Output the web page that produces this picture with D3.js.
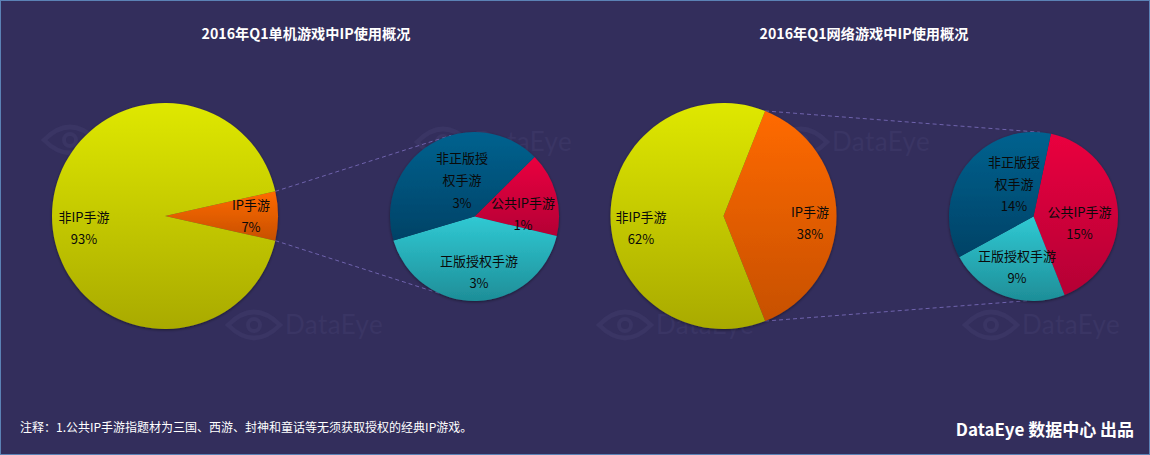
<!DOCTYPE html>
<html>
<head>
<meta charset="utf-8">
<script src="https://cdn.jsdelivr.net/npm/d3@7"></script>
<style>
  html, body { margin: 0; padding: 0; background: #332e5c; }
  svg { display: block; font-family: "Noto Sans CJK SC", "Noto Sans", sans-serif; }
</style>
</head>
<body>
<script>
// data
const chartTitles = ['2016年Q1单机游戏中IP使用概况', '2016年Q1网络游戏中IP使用概况'];
const mainCategories = ['IP手游', '非IP手游'];
const subCategories = ['公共IP手游', '正版授权手游', '非正版授权手游'];
const mainValuesLeft = [7, 93];
const mainValuesRight = [38, 62];
// slice sizes are a little off the rounded labels, same as in the picture
const subValuesLeft = [1.13, 2.92, 2.95];
const subValuesRight = [15.47, 8.75, 13.78];
const mainLabelsLeft = ['7%', '93%'];
const mainLabelsRight = ['38%', '62%'];
const subLabelsLeft = ['1%', '3%', '3%'];
const subLabelsRight = ['15%', '9%', '14%'];
const noteText = '注释：1.公共IP手游指题材为三国、西游、封神和童话等无须获取授权的经典IP游戏。';
const creditText = 'DataEye 数据中心 出品';

const w = 1150;
const h = 455;
const deg = Math.PI / 180;

const colors = {
  main: [['#ff6a00', '#c75000'], ['#dfe806', '#a9aa00']],
  sub: [['#ea003f', '#b40035'], ['#30c9d3', '#1e8e98'], ['#00628f', '#004266']]
};

// layout: pie centres, start angles, connector targets, label anchors
const layout = [
  {
    title: [306, 33],
    big: { cx: 165, cy: 216, r: 113 },
    small: { cx: 474.5, cy: 216.5, r: 84.5, start: 45.3 },
    targets: [-16, 204.5],
    mainPos: [[251, 204, 226], [84, 216, 238]],
    subPos: [[523, 202, 224], [479, 260, 282], [462, 157, 202]]
  },
  {
    title: [864, 33],
    big: { cx: 723.5, cy: 216, r: 113 },
    small: { cx: 1033.5, cy: 216.5, r: 84.5, start: 11.9 },
    targets: [4.4, 184.4],
    mainPos: [[810, 211, 233], [641, 216, 238]],
    subPos: [[1079.5, 211, 233], [1017, 255, 277], [1014, 161, 205]]
  }
];
const watermarks = [[42, 140], [415, 142], [773, 142], [226, 325], [597, 325], [963, 325]];

const svg = d3.select('body').append('svg')
  .attr('width', w)
  .attr('height', h);

const defs = svg.append('defs');

const shadow = defs.append('filter')
  .attr('id', 'shadow')
  .attr('x', '-10%').attr('y', '-10%')
  .attr('width', '120%').attr('height', '120%');
shadow.append('feDropShadow')
  .attr('dx', 0).attr('dy', 1)
  .attr('stdDeviation', 1.5)
  .attr('flood-color', '#000')
  .attr('flood-opacity', 0.45);

function addGradient(id, pair) {
  const g = defs.append('linearGradient')
    .attr('id', id)
    .attr('x1', 0).attr('y1', 0)
    .attr('x2', 0).attr('y2', 1);
  g.append('stop').attr('offset', '0%').attr('stop-color', pair[0]);
  g.append('stop').attr('offset', '100%').attr('stop-color', pair[1]);
}
colors.main.forEach((p, i) => addGradient('main' + i, p));
colors.sub.forEach((p, i) => addGradient('sub' + i, p));

// background and thin blue frame
svg.append('rect')
  .attr('width', w).attr('height', h)
  .attr('fill', '#332e5c');
svg.append('rect')
  .attr('x', 0.5).attr('y', 0.5)
  .attr('width', w - 1).attr('height', h - 1)
  .attr('fill', 'none')
  .attr('stroke', '#5b82b5')
  .attr('stroke-width', 1);

// DataEye watermarks
const wm = svg.append('g').attr('class', 'watermark');
watermarks.forEach(p => {
  const g = wm.append('g').attr('transform', 'translate(' + p[0] + ',' + p[1] + ')');
  g.append('path')
    .attr('d', 'M2,0 Q28,-26 54,0 Q28,26 2,0 Z')
    .attr('fill', 'none')
    .attr('stroke', '#3a3564')
    .attr('stroke-width', 4.5);
  g.append('circle')
    .attr('cx', 28).attr('cy', 0).attr('r', 6)
    .attr('fill', 'none')
    .attr('stroke', '#3a3564')
    .attr('stroke-width', 4);
  g.append('text')
    .attr('x', 59).attr('y', 9)
    .attr('font-family', 'Lato, "Open Sans", sans-serif')
    .attr('font-size', 26)
    .attr('letter-spacing', 0.4)
    .attr('fill', '#3a3564')
    .text('DataEye');
});

const arc = d3.arc().innerRadius(0);

function polar(c, a) {
  return [c.cx + c.r * Math.sin(a), c.cy - c.r * Math.cos(a)];
}

function drawPie(cfg, values, start, prefix) {
  const slices = d3.pie().sort(null)
    .startAngle(start)
    .endAngle(start + 2 * Math.PI)(values);
  const g = svg.append('g')
    .attr('transform', 'translate(' + cfg.cx + ',' + cfg.cy + ')')
    .attr('filter', 'url(#shadow)');
  g.selectAll('path')
    .data(slices)
    .enter()
    .append('path')
    .attr('d', d => arc.outerRadius(cfg.r)(d))
    .attr('fill', (d, i) => 'url(#' + prefix + i + ')');
  return slices;
}

function drawLabel(text, x, y) {
  svg.append('text')
    .attr('x', x).attr('y', y)
    .attr('text-anchor', 'middle')
    .attr('dominant-baseline', 'central')
    .attr('font-size', 13)
    .attr('fill', '#0a0a0a')
    .text(text);
}

function drawGroup(l, mainValues, subValues, mainLabels, subLabels, title) {
  // IP slice sits centred on the right side of the big pie
  const ipShare = mainValues[0] / d3.sum(mainValues);
  const start = Math.PI / 2 - Math.PI * ipShare;
  const ends = [start, start + 2 * Math.PI * ipShare];

  // connectors go under both pies
  ends.forEach((a, i) => {
    const from = polar(l.big, a);
    const to = polar(l.small, l.targets[i] * deg);
    svg.append('line')
      .attr('x1', from[0]).attr('y1', from[1])
      .attr('x2', to[0]).attr('y2', to[1])
      .attr('stroke', '#6f63ad')
      .attr('stroke-width', 1)
      .attr('stroke-dasharray', '4,3');
  });

  drawPie(l.big, mainValues, start, 'main');
  drawPie(l.small, subValues, l.small.start * deg, 'sub');

  mainCategories.forEach((c, i) => {
    drawLabel(c, l.mainPos[i][0], l.mainPos[i][1]);
    drawLabel(mainLabels[i], l.mainPos[i][0], l.mainPos[i][2]);
  });

  subCategories.forEach((c, i) => {
    const p = l.subPos[i];
    if (c.length > 6) {
      // long name wraps after four characters
      drawLabel(c.slice(0, 4), p[0], p[1]);
      drawLabel(c.slice(4), p[0], p[1] + 22);
    } else {
      drawLabel(c, p[0], p[1]);
    }
    drawLabel(subLabels[i], p[0], p[2]);
  });

  svg.append('text')
    .attr('x', l.title[0]).attr('y', l.title[1])
    .attr('text-anchor', 'middle')
    .attr('dominant-baseline', 'central')
    .attr('font-size', 14.2)
    .attr('font-weight', 700)
    .attr('fill', '#fff')
    .text(title);
}

drawGroup(layout[0], mainValuesLeft, subValuesLeft, mainLabelsLeft, subLabelsLeft, chartTitles[0]);
drawGroup(layout[1], mainValuesRight, subValuesRight, mainLabelsRight, subLabelsRight, chartTitles[1]);

svg.append('text')
  .attr('x', 20).attr('y', 426)
  .attr('dominant-baseline', 'central')
  .attr('font-size', 12)
  .attr('fill', '#fff')
  .text(noteText);

svg.append('text')
  .attr('x', 1134).attr('y', 428)
  .attr('text-anchor', 'end')
  .attr('dominant-baseline', 'central')
  .attr('font-size', 17)
  .attr('font-weight', 700)
  .attr('fill', '#fff')
  .text(creditText);
</script>
</body>
</html>
